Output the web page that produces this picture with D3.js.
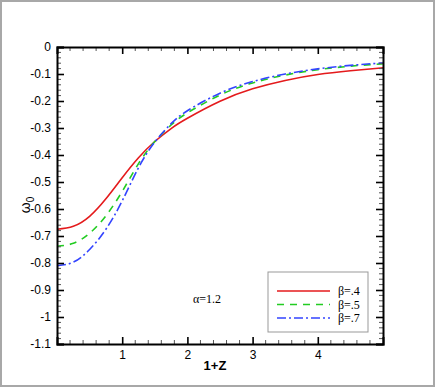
<!DOCTYPE html>
<html>
<head>
<meta charset="utf-8">
<script src="https://cdn.jsdelivr.net/npm/d3@7"></script>
<style>
  body { margin: 0; background: #fff; }
  text { font-family: "Liberation Sans", Arial, sans-serif; }
  .serif { font-family: "Liberation Serif", "Times New Roman", serif; }
</style>
</head>
<body>
<svg id="chart"></svg>
<script>
// 1+Z sample points
var zVals = [0, 0.25, 0.5, 0.75, 1, 1.25, 1.5, 1.75, 2, 2.5, 3, 3.5, 4, 4.5, 5];

var beta4 = [-0.675, -0.664, -0.627, -0.562, -0.484, -0.41, -0.35, -0.302, -0.264, -0.201, -0.155, -0.124, -0.102, -0.088, -0.077];
var beta5 = [-0.738, -0.727, -0.69, -0.625, -0.535, -0.432, -0.35, -0.289, -0.244, -0.178, -0.133, -0.104, -0.084, -0.071, -0.062];
var beta7 = [-0.81, -0.797, -0.75, -0.675, -0.57, -0.447, -0.352, -0.284, -0.236, -0.171, -0.128, -0.1, -0.081, -0.068, -0.059];

var seriesNames = ["\u03b2=.4", "\u03b2=.5", "\u03b2=.7"];
var xTicks = [1, 2, 3, 4];
var yTicks = [0, -0.1, -0.2, -0.3, -0.4, -0.5, -0.6, -0.7, -0.8, -0.9, -1, -1.1];

var width = 436, height = 388;
var pLeft = 57, pRight = 383, pTop = 47, pBottom = 344;

var svg = d3.select("#chart").attr("width", width).attr("height", height);

// outer frame
svg.append("rect")
   .attr("x", 1).attr("y", 1)
   .attr("width", 433).attr("height", 385)
   .attr("fill", "none")
   .attr("stroke", "#a8a8a8")
   .attr("stroke-width", 2);

var x = d3.scaleLinear().domain([0, 5]).range([pLeft, pRight]);
var y = d3.scaleLinear().domain([-1.1, 0]).range([pBottom, pTop]);

var styles = [
  {color: "#e41a1c", dash: null},
  {color: "#22cc22", dash: "7,6"},
  {color: "#3344ff", dash: "9,3,2,3"}
];

var line = d3.line()
  .x(function(d) { return x(d[0]); })
  .y(function(d) { return y(d[1]); })
  .curve(d3.curveNatural);

var plot = svg.append("g");
plot.append("clipPath").attr("id", "clip")
  .append("rect").attr("x", pLeft).attr("y", pTop)
  .attr("width", pRight - pLeft).attr("height", pBottom - pTop);

[beta4, beta5, beta7].forEach(function(vals, i) {
  var pts = zVals.map(function(z, j) { return [z, vals[j]]; });
  plot.append("path")
    .datum(pts)
    .attr("d", line)
    .attr("fill", "none")
    .attr("clip-path", "url(#clip)")
    .attr("stroke", styles[i].color)
    .attr("stroke-width", 1.6)
    .attr("stroke-dasharray", styles[i].dash);
});

// minor ticks
var xMinor = d3.range(0, 5.001, 0.2).filter(function(v) { return Math.abs(v - Math.round(v)) > 0.01; });
var yMinor = d3.range(0, -1.1001, -0.02).filter(function(v) { return Math.abs(v * 10 - Math.round(v * 10)) > 0.01; });

// axes with inward ticks
var xBottom = d3.axisBottom(x).tickValues(xTicks).tickSize(-7).tickPadding(6).tickFormat(d3.format("d"));
var xTop = d3.axisTop(x).tickValues(xTicks).tickSize(-7).tickFormat("");
var yLeft = d3.axisLeft(y).tickValues(yTicks).tickSize(-7).tickPadding(6).tickFormat(function(d) { return d === 0 ? "0" : String(+d.toFixed(1)); });
var yRight = d3.axisRight(y).tickValues(yTicks).tickSize(-7).tickFormat("");

function styleAxis(g) {
  g.select(".domain").attr("stroke", "#000").attr("stroke-width", 2);
  g.selectAll(".tick line").attr("stroke", "#000").attr("stroke-width", 1.6);
  g.selectAll(".tick text").attr("font-size", 12).attr("fill", "#000")
    .style("font-family", "'Liberation Sans', Arial, sans-serif");
}

var minorG = svg.append("g").attr("stroke", "#555").attr("stroke-width", 1);
xMinor.forEach(function(v) {
  minorG.append("line").attr("x1", x(v)).attr("x2", x(v)).attr("y1", pBottom).attr("y2", pBottom - 4);
  minorG.append("line").attr("x1", x(v)).attr("x2", x(v)).attr("y1", pTop).attr("y2", pTop + 4);
});
yMinor.forEach(function(v) {
  minorG.append("line").attr("x1", pLeft).attr("x2", pLeft + 4).attr("y1", y(v)).attr("y2", y(v));
  minorG.append("line").attr("x1", pRight).attr("x2", pRight - 4).attr("y1", y(v)).attr("y2", y(v));
});

svg.append("g").attr("transform", "translate(0," + pBottom + ")").call(xBottom).call(styleAxis);
svg.append("g").attr("transform", "translate(0," + pTop + ")").call(xTop).call(styleAxis);
svg.append("g").attr("transform", "translate(" + pLeft + ",0)").call(yLeft).call(styleAxis);
svg.append("g").attr("transform", "translate(" + pRight + ",0)").call(yRight).call(styleAxis);

// axis titles
svg.append("text")
  .attr("x", 215).attr("y", 370)
  .attr("text-anchor", "middle")
  .attr("font-size", 13).attr("font-weight", "bold")
  .text("1+Z");

var yt = svg.append("text")
  .attr("transform", "translate(30,205) rotate(-90)")
  .attr("text-anchor", "middle")
  .attr("font-size", 14);
yt.append("tspan").text("\u03c9");
yt.append("tspan").attr("font-size", 10).attr("dy", 4).text("0");

// annotation
svg.append("text").attr("class", "serif")
  .attr("x", 193).attr("y", 303)
  .attr("font-size", 12)
  .text("\u03b1=1.2");

// legend
var legend = svg.append("g");
legend.append("rect")
  .attr("x", 268).attr("y", 272)
  .attr("width", 100).attr("height", 60)
  .attr("fill", "#fff")
  .attr("stroke", "#999").attr("stroke-width", 1);

seriesNames.forEach(function(name, i) {
  var ly = 291 + i * 13.5;
  legend.append("line")
    .attr("x1", 277).attr("x2", 330)
    .attr("y1", ly).attr("y2", ly)
    .attr("stroke", styles[i].color)
    .attr("stroke-width", 1.6)
    .attr("stroke-dasharray", styles[i].dash);
  legend.append("text").attr("class", "serif")
    .attr("x", 338).attr("y", ly + 4)
    .attr("font-size", 12)
    .text(name);
});
</script>
</body>
</html>
